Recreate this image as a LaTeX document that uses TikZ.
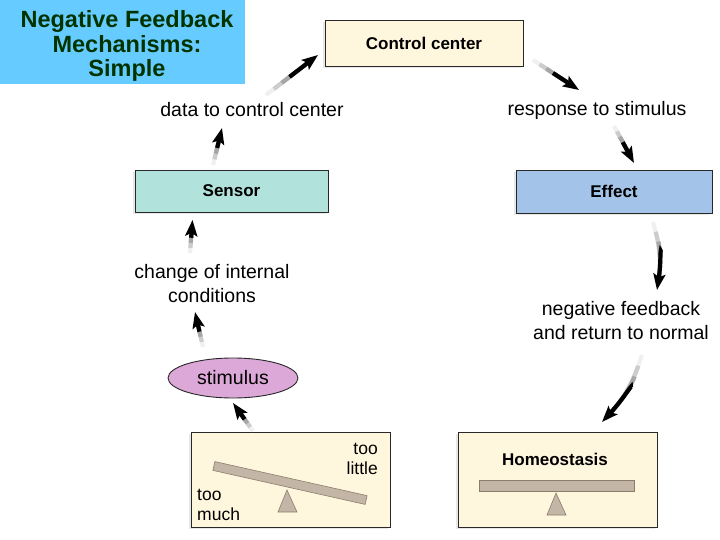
\documentclass[tikz,border=0pt]{standalone}
\usepackage{fontspec}
\setmainfont{Liberation Sans}
\usetikzlibrary{arrows.meta,calc,shapes.geometric,shadows}
\definecolor{titlebg}{RGB}{102,204,255}
\definecolor{titletx}{RGB}{0,51,0}
\definecolor{cream}{RGB}{255,246,222}
\definecolor{sensorc}{RGB}{178,226,220}
\definecolor{effectc}{RGB}{163,196,232}
\definecolor{stimc}{RGB}{220,168,216}
\definecolor{beam}{RGB}{196,182,166}
\definecolor{beamedge}{RGB}{140,124,108}
\definecolor{edge}{RGB}{40,40,40}
\tikzset{
  box/.style={draw=edge,line width=0.9pt,inner sep=0pt,
    drop shadow={shadow xshift=-2pt,shadow yshift=-2pt,opacity=0.18},
    font=\fontsize{17}{20}\selectfont\bfseries},
  lbl/.style={font=\fontsize{19.5}{24}\selectfont,align=center,inner sep=0pt},
  small/.style={font=\fontsize{17.5}{20}\selectfont,inner sep=0pt},
  beamshape/.style={draw=beamedge,fill=beam,line width=0.6pt},
}
\newcommand\farrow[4][]{%
  \draw[line width=4.2pt,draw=gray!12,shorten >=14pt,#1] #2 to #3;
  \draw[line width=4.2pt,draw=gray!40,shorten >=14pt,shorten <={0.15*#4pt},#1] #2 to #3;
  \draw[line width=4.2pt,draw=gray!70,shorten >=14pt,shorten <={0.3*#4pt},#1] #2 to #3;
  \draw[line width=4.2pt,draw=black,-{Stealth[length=16pt,width=12pt,inset=3pt]},shorten <={0.45*#4pt},#1] #2 to #3;
}
\begin{document}
\begin{tikzpicture}[x=1pt,y=-1pt]
\useasboundingbox (0,0) rectangle (720,540);
% title
\fill[titlebg] (0,0) rectangle (245,84);
\node[font=\fontsize{23.5}{24.5}\selectfont\bfseries,text=titletx,align=center,inner sep=0pt] (title) at (127,46)
  {Negative Feedback\\Mechanisms:\\Simple};
% boxes
\node[box,fill=cream,minimum width=198pt,minimum height=46pt] (cc) at (424,43) {Control center};
\node[box,fill=sensorc,minimum width=193pt,minimum height=42pt] (sensor) at (231.5,191) {Sensor};
\node[box,fill=effectc,minimum width=196pt,minimum height=43pt] (effect) at (614,191.5) {Effect};
\node[ellipse,draw=edge,line width=0.9pt,fill=stimc,minimum width=130pt,minimum height=40pt,
  inner sep=0pt,font=\fontsize{19.5}{22}\selectfont] (stim) at (233,378) {stimulus};
\node[box,fill=cream,minimum width=199pt,minimum height=95pt] (lbox) at (290.5,479.5) {};
\node[box,fill=cream,minimum width=199pt,minimum height=95pt] (rbox) at (557.5,479.5) {};
% labels
\node[lbl] (data) at (252,110) {data to control center};
\node[lbl] (resp) at (597,110) {response to stimulus};
\node[lbl] (change) at (212,284) {change of internal\\conditions};
\node[lbl] (negfb) at (621,321) {negative feedback\\and return to normal};
% left seesaw
\node[beamshape,minimum width=156pt,minimum height=9pt,inner sep=0pt,rotate=-12.6] (beamL) at (290,483) {};
\draw[beamshape] (287,490) -- (297,512) -- (278,512) -- cycle;
\node[small,align=right,anchor=north east] (little) at (378,443) {too\\little};
\node[small,align=left,anchor=south west] (much) at (197,521) {too\\much};
% right seesaw
\node[font=\fontsize{17}{20}\selectfont\bfseries,inner sep=0pt] (homeo) at (555,459) {Homeostasis};
\draw[beamshape] (479,480) rectangle (634,491);
\draw[beamshape] (556,493) -- (566,515) -- (547,515) -- cycle;
% arrows
\farrow{([shift={(-18.5,-26)}]sensor.center)}{([shift={(-30,18)}]data.center)}{39}
\farrow{([shift={(14,-15)}]data.center)}{([shift={(-106,12)}]cc.center)}{66}
\farrow{([shift={(109,17)}]cc.center)}{([shift={(-18,-20)}]resp.center)}{53}
\farrow{([shift={(17,16)}]resp.center)}{([shift={(20,-28.5)}]effect.center)}{41}
\farrow[bend left=12]{([shift={(39,30.5)}]effect.center)}{([shift={(36,-31)}]negfb.center)}{68}
\farrow[bend left=12]{([shift={(21,34)}]negfb.center)}{([shift={(44.5,-57.5)}]rbox.center)}{76}
\farrow{([shift={(-37.5,-48.5)}]lbox.center)}{([shift={(0,25)}]stim.center)}{32}
\farrow{([shift={(-30,-31)}]stim.center)}{([shift={(-17,28)}]change.center)}{35}
\farrow{([shift={(-22,-31)}]change.center)}{([shift={(-39,29)}]sensor.center)}{34}
\end{tikzpicture}
\end{document}
